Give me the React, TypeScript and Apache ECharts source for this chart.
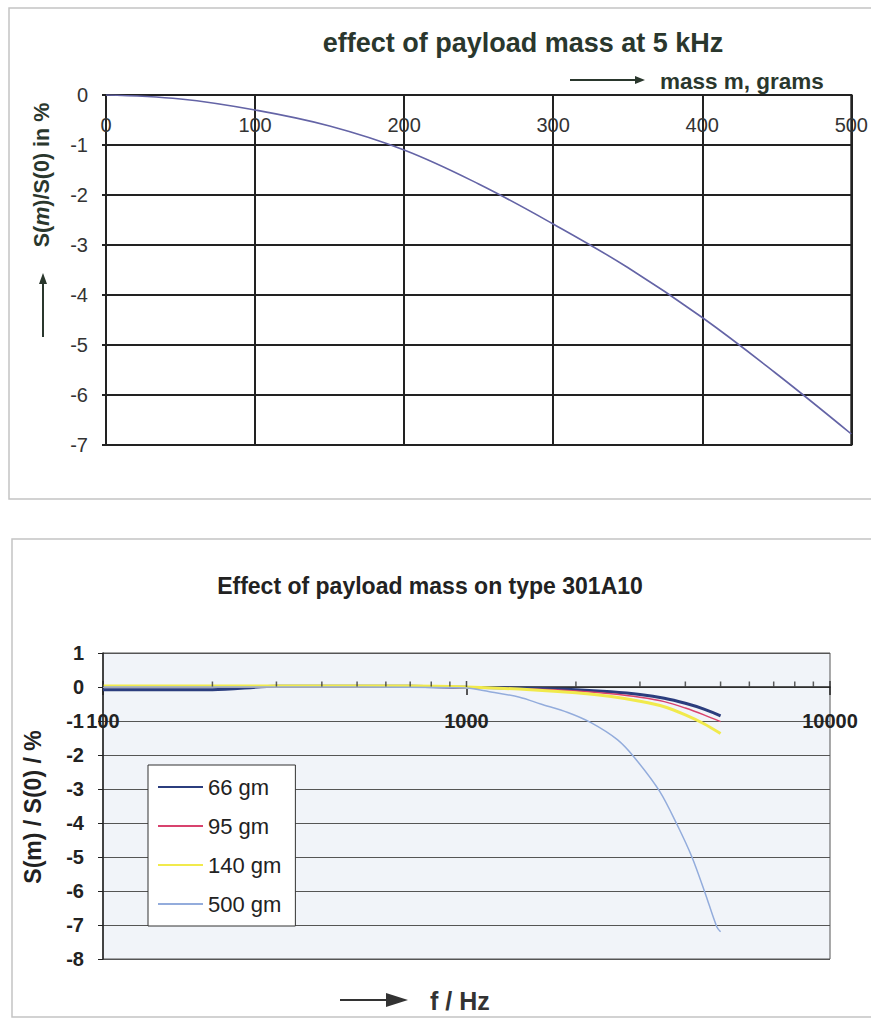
import React, { useEffect, useRef } from "react";
import * as echarts from "echarts";

// ---- Top chart: effect of payload mass at 5 kHz ----
const massGrams = [0, 50, 100, 150, 200, 250, 300, 350, 400, 450, 500];
const effect5kHz = [0, -0.08, -0.3, -0.62, -1.1, -1.78, -2.58, -3.45, -4.45, -5.58, -6.78];

// ---- Bottom chart: effect of payload mass on type 301A10 ----
const freqHz = [100, 200, 300, 500, 700, 1000, 1500, 2000, 2500, 3000, 3500, 4000, 4500, 5000];
const gm66 = [-0.08, -0.08, 0.02, 0.02, 0.02, -0.01, -0.04, -0.08, -0.14, -0.22, -0.33, -0.48, -0.65, -0.85];
const gm95 = [0, 0, 0, 0, 0, -0.02, -0.06, -0.12, -0.2, -0.3, -0.43, -0.62, -0.82, -1.02];
const gm140 = [0.03, 0.03, 0.03, 0.03, 0.03, 0, -0.08, -0.17, -0.28, -0.42, -0.58, -0.82, -1.08, -1.37];
const freq500 = [100, 500, 1000, 1150, 1400, 1600, 1900, 2200, 2600, 2900, 3400, 3800, 4170, 4530, 4880, 5000];
const gm500 = [0, 0, -0.03, -0.13, -0.3, -0.5, -0.75, -1.05, -1.55, -2.08, -3.07, -4.06, -5.0, -6.05, -7.05, -7.2];
const legendNames = ["66 gm", "95 gm", "140 gm", "500 gm"];
const minorTickFreqs = [200, 300, 400, 500, 600, 700, 800, 900, 2000, 3000, 4000, 5000, 6000, 7000, 8000, 9000];
const majorTickFreqs = [100, 1000, 10000];

const FONT = "Liberation Sans, Arial, sans-serif";

export default function App() {
  const ref = useRef<HTMLDivElement>(null);

  useEffect(() => {
    document.body.style.margin = "0";
    const chart = echarts.init(ref.current as HTMLDivElement, null, { renderer: "svg" });
    const pair = (xs: number[], ys: number[]) => xs.map((x, i) => [x, ys[i]]);

    const arrowHead = (tipX: number, tipY: number, dir: "right" | "up", len: number, half: number) =>
      dir === "right"
        ? [[tipX, tipY], [tipX - len, tipY - half], [tipX - len, tipY + half]]
        : [[tipX, tipY], [tipX - half, tipY + len], [tipX + half, tipY + len]];

    const option: any = {
      animation: false,
      backgroundColor: "#ffffff",
      grid: [
        { left: 106, top: 95, width: 746, height: 350, show: true, borderColor: "#222", borderWidth: 2, backgroundColor: "#fff" },
        { left: 103, top: 653, width: 727, height: 306, show: true, borderColor: "#555", borderWidth: 1, backgroundColor: "#f1f4f9" },
      ],
      xAxis: [
        {
          type: "value", gridIndex: 0, position: "top", min: 0, max: 500, interval: 100,
          axisLine: { lineStyle: { color: "#222", width: 2 } },
          axisTick: { show: false },
          axisLabel: { inside: true, margin: 20, fontSize: 20, color: "#333", fontFamily: FONT, showMinLabel: true, showMaxLabel: true },
          splitLine: { show: true, lineStyle: { color: "#222", width: 2 } },
        },
        {
          type: "log", logBase: 10, gridIndex: 1, min: 100, max: 10000, position: "bottom", offset: -272,
          axisLine: { onZero: false, lineStyle: { color: "#222", width: 1.5 } },
          axisTick: { show: true, length: 8, lineStyle: { color: "#222", width: 1.5 } },
          axisLabel: {
            margin: 24, fontSize: 20, fontWeight: "bold", color: "#222", fontFamily: FONT, showMinLabel: true, showMaxLabel: true,
            formatter: (v: number) => String(Math.round(v)),
          },
          splitLine: { show: false },
        },
      ],
      yAxis: [
        {
          type: "value", gridIndex: 0, min: -7, max: 0, interval: 1,
          axisLine: { show: true, lineStyle: { color: "#222", width: 2 } },
          axisTick: { show: true, length: 4, lineStyle: { color: "#222", width: 2 } },
          axisLabel: { margin: 18, fontSize: 20, color: "#333", fontFamily: FONT },
          splitLine: { show: true, lineStyle: { color: "#222", width: 2 } },
        },
        {
          type: "value", gridIndex: 1, min: -8, max: 1, interval: 1,
          axisLine: { show: true, onZero: false, lineStyle: { color: "#222", width: 1.5 } },
          axisTick: { show: true, length: 5, lineStyle: { color: "#222", width: 1 } },
          axisLabel: { margin: 19, fontSize: 20, fontWeight: "bold", color: "#222", fontFamily: FONT },
          splitLine: { show: true, lineStyle: { color: "#555", width: 1 } },
        },
      ],
      legend: {
        data: legendNames,
        orient: "vertical",
        left: 148,
        top: 765,
        itemWidth: 45,
        itemHeight: 14,
        itemGap: 17,
        padding: [11, 14, 11, 9],
        backgroundColor: "#fff",
        borderColor: "#333",
        borderWidth: 1,
        selectedMode: false,
        itemStyle: { opacity: 0 },
        textStyle: { fontSize: 22, color: "#222", fontFamily: FONT },
      },
      graphic: [
        { type: "rect", shape: { x: 9, y: 8, width: 880, height: 491 }, style: { fill: "none", stroke: "#c4c4c4", lineWidth: 1.5 }, z: -10 },
        { type: "rect", shape: { x: 12, y: 539, width: 880, height: 478 }, style: { fill: "none", stroke: "#c4c4c4", lineWidth: 1.5 }, z: -10 },
        {
          type: "text", x: 523, y: 43,
          style: { text: "effect of payload mass at 5 kHz", fontSize: 27, fontWeight: "bold", fontFamily: FONT, fill: "#2a372d", align: "center", verticalAlign: "middle" },
        },
        { type: "line", shape: { x1: 570, y1: 80, x2: 636, y2: 80 }, style: { stroke: "#2a372d", lineWidth: 2 } },
        { type: "polygon", shape: { points: arrowHead(645, 80, "right", 10, 4) }, style: { fill: "#2a372d" } },
        {
          type: "text", x: 660, y: 81,
          style: { text: "mass m, grams", fontSize: 22.5, fontWeight: "bold", fontFamily: FONT, fill: "#2a372d", align: "left", verticalAlign: "middle" },
        },
        {
          type: "text", x: 42, y: 175, rotation: Math.PI / 2,
          style: {
            text: "S({i|m})/S(0) in %",
            fontSize: 21.5, fontWeight: "bold", fontFamily: FONT, fill: "#2a372d", align: "center", verticalAlign: "middle",
            rich: { i: { fontStyle: "italic", fontSize: 21.5, fontWeight: "bold", fontFamily: FONT, fill: "#2a372d" } },
          },
        },
        { type: "line", shape: { x1: 43, y1: 337, x2: 43, y2: 283 }, style: { stroke: "#2a372d", lineWidth: 2 } },
        { type: "polygon", shape: { points: arrowHead(43, 273, "up", 11, 4) }, style: { fill: "#2a372d" } },
        {
          type: "text", x: 430, y: 586,
          style: { text: "Effect of payload mass on type 301A10", fontSize: 23, fontWeight: "bold", fontFamily: FONT, fill: "#222", align: "center", verticalAlign: "middle" },
        },
        {
          type: "text", x: 33, y: 807, rotation: Math.PI / 2,
          style: { text: "S(m) / S(0) / %", fontSize: 23, fontWeight: "bold", fontFamily: FONT, fill: "#222", align: "center", verticalAlign: "middle" },
        },
        { type: "line", shape: { x1: 340, y1: 1000, x2: 392, y2: 1000 }, style: { stroke: "#333", lineWidth: 2 } },
        { type: "polygon", shape: { points: arrowHead(408, 1000, "right", 22, 7) }, style: { fill: "#333" } },
        {
          type: "text", x: 430, y: 1001,
          style: { text: "f / Hz", fontSize: 25, fontWeight: "bold", fontFamily: FONT, fill: "#333", align: "left", verticalAlign: "middle" },
        },
      ],
      series: [
        {
          type: "line", name: "payload 5 kHz", xAxisIndex: 0, yAxisIndex: 0, data: pair(massGrams, effect5kHz),
          symbol: "none", smooth: 0.4, lineStyle: { color: "#6464a6", width: 1.6 }, itemStyle: { color: "#6464a6" }, z: 5,
        },
        {
          type: "line", name: legendNames[0], xAxisIndex: 1, yAxisIndex: 1, data: pair(freqHz, gm66),
          symbol: "none", smooth: 0.3, lineStyle: { color: "#2b3d7e", width: 3 }, itemStyle: { color: "#2b3d7e" }, z: 3,
        },
        {
          type: "line", name: legendNames[1], xAxisIndex: 1, yAxisIndex: 1, data: pair(freqHz, gm95),
          symbol: "none", smooth: 0.3, lineStyle: { color: "#d8436e", width: 1.5 }, itemStyle: { color: "#d8436e" }, z: 3,
        },
        {
          type: "line", name: legendNames[2], xAxisIndex: 1, yAxisIndex: 1, data: pair(freqHz, gm140),
          symbol: "none", smooth: 0.3, lineStyle: { color: "#f1ea4c", width: 3 }, itemStyle: { color: "#f1ea4c" }, z: 3,
        },
        {
          type: "line", name: legendNames[3], xAxisIndex: 1, yAxisIndex: 1, data: pair(freq500, gm500),
          symbol: "none", smooth: 0.3, lineStyle: { color: "#93acdc", width: 1.5 }, itemStyle: { color: "#93acdc" }, z: 3,
        },
        {
          type: "scatter", name: "minor ticks", xAxisIndex: 1, yAxisIndex: 1, data: minorTickFreqs.map((f) => [f, 0]),
          symbol: "rect", symbolSize: [1.5, 5], symbolOffset: [0, -3], itemStyle: { color: "#333" }, silent: true, z: 6,
        },
        {
          type: "scatter", name: "major ticks", xAxisIndex: 1, yAxisIndex: 1, data: majorTickFreqs.map((f) => [f, 0]),
          symbol: "rect", symbolSize: [1.5, 6], symbolOffset: [0, -3], itemStyle: { color: "#222" }, silent: true, z: 6,
        },
      ],
    };

    chart.setOption(option);
    return () => chart.dispose();
  }, []);

  return <div ref={ref} style={{ width: 871, height: 1021 }} />;
}
